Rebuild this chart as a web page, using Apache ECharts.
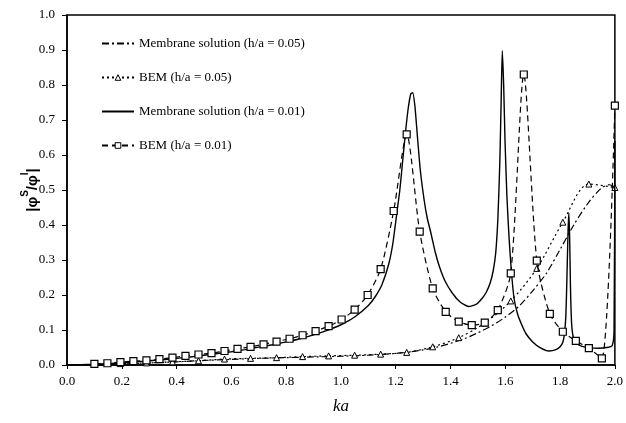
<!DOCTYPE html>
<html>
<head>
<meta charset="utf-8">
<script src="https://cdn.jsdelivr.net/npm/echarts@6/dist/echarts.min.js"></script>
<style>
  html, body { margin: 0; padding: 0; background: #fff; }
  #chart { width: 626px; height: 423px; }
</style>
</head>
<body>
<div id="chart"></div>
<script>
// Membrane solution, h/a = 0.05
const kaMem05 = [0.0, 0.1, 0.2, 0.3, 0.4, 0.5, 0.6, 0.7, 0.8, 0.9, 1.0, 1.1, 1.2, 1.25, 1.3, 1.35, 1.4, 1.45, 1.5, 1.55, 1.6, 1.65, 1.7, 1.75, 1.8, 1.85, 1.9, 1.95, 1.98, 2.0];
const valMem05 = [0.0, 0.001, 0.003, 0.006, 0.009, 0.013, 0.016, 0.019, 0.021, 0.023, 0.025, 0.028, 0.033, 0.037, 0.043, 0.051, 0.062, 0.075, 0.092, 0.112, 0.137, 0.168, 0.212, 0.262, 0.33, 0.40, 0.46, 0.505, 0.515, 0.508];

// BEM, h/a = 0.05
const kaBem05 = [0.1, 0.195, 0.29, 0.385, 0.48, 0.575, 0.67, 0.765, 0.86, 0.955, 1.05, 1.145, 1.24, 1.335, 1.43, 1.525, 1.62, 1.715, 1.81, 1.905, 2.0];
const valBem05 = [0.002, 0.004, 0.006, 0.009, 0.012, 0.017, 0.019, 0.021, 0.024, 0.026, 0.028, 0.031, 0.036, 0.052, 0.078, 0.12, 0.183, 0.276, 0.408, 0.517, 0.507];

// Membrane solution, h/a = 0.01
const kaMem01 = [0.0, 0.05, 0.1, 0.15, 0.2, 0.25, 0.3, 0.35, 0.4, 0.45, 0.5, 0.55, 0.6, 0.65, 0.7, 0.75, 0.8, 0.85, 0.9, 0.95, 1.0, 1.05, 1.1, 1.125, 1.15, 1.175, 1.19, 1.205, 1.215, 1.225, 1.235, 1.245, 1.255, 1.262, 1.27, 1.28, 1.29, 1.304, 1.315, 1.329, 1.345, 1.36, 1.38, 1.407, 1.435, 1.466, 1.495, 1.515, 1.53, 1.545, 1.556, 1.565, 1.573, 1.58, 1.585, 1.589, 1.594, 1.599, 1.606, 1.614, 1.622, 1.632, 1.645, 1.66, 1.675, 1.7, 1.73, 1.76, 1.785, 1.8, 1.81, 1.816, 1.821, 1.825, 1.829, 1.832, 1.835, 1.838, 1.842, 1.848, 1.86, 1.88, 1.91, 1.94, 1.97, 1.99, 1.997, 2.0];
const valMem01 = [0.0, 0.001, 0.002, 0.004, 0.006, 0.009, 0.012, 0.015, 0.019, 0.023, 0.028, 0.033, 0.038, 0.044, 0.051, 0.058, 0.066, 0.075, 0.086, 0.099, 0.115, 0.137, 0.17, 0.195, 0.23, 0.29, 0.35, 0.44, 0.50, 0.58, 0.66, 0.73, 0.775, 0.778, 0.74, 0.645, 0.555, 0.47, 0.42, 0.375, 0.32, 0.28, 0.24, 0.205, 0.18, 0.167, 0.174, 0.19, 0.207, 0.235, 0.27, 0.32, 0.42, 0.58, 0.76, 0.898, 0.80, 0.64, 0.48, 0.36, 0.27, 0.19, 0.145, 0.115, 0.09, 0.066, 0.048, 0.04, 0.044, 0.052, 0.065, 0.09, 0.14, 0.25, 0.38, 0.435, 0.36, 0.22, 0.12, 0.08, 0.062, 0.053, 0.049, 0.048, 0.05, 0.055, 0.1, 0.64];

// BEM, h/a = 0.01
const kaBem01 = [0.1, 0.1475, 0.195, 0.2425, 0.29, 0.3375, 0.385, 0.4325, 0.48, 0.5275, 0.575, 0.6225, 0.67, 0.7175, 0.765, 0.8125, 0.86, 0.9075, 0.955, 1.0025, 1.05, 1.0975, 1.145, 1.1925, 1.24, 1.2875, 1.335, 1.3825, 1.43, 1.4775, 1.525, 1.5725, 1.62, 1.6675, 1.715, 1.7625, 1.81, 1.8575, 1.905, 1.9525, 2.0];
const valBem01 = [0.003, 0.005, 0.008, 0.011, 0.013, 0.017, 0.021, 0.026, 0.030, 0.034, 0.040, 0.046, 0.052, 0.059, 0.067, 0.075, 0.085, 0.097, 0.111, 0.130, 0.158, 0.200, 0.274, 0.440, 0.659, 0.381, 0.219, 0.152, 0.124, 0.114, 0.121, 0.157, 0.262, 0.830, 0.298, 0.146, 0.095, 0.069, 0.048, 0.019, 0.741];

const seriesNames = [
  'Membrane solution (h/a = 0.05)',
  'BEM (h/a = 0.05)',
  'Membrane solution (h/a = 0.01)',
  'BEM (h/a = 0.01)'
];

const xTicks = ['0.0', '0.2', '0.4', '0.6', '0.8', '1.0', '1.2', '1.4', '1.6', '1.8', '2.0'];

const pairs = (xs, ys) => xs.map((x, i) => [x, ys[i]]);
const serif = '"Liberation Serif", "Times New Roman", serif';
const sans = '"Liberation Sans", Arial, sans-serif';
const hollow = { color: '#fff', borderColor: '#000', borderWidth: 1 };

const chart = echarts.init(document.getElementById('chart'), null, { renderer: 'canvas' });

chart.setOption({
  backgroundColor: '#ffffff',
  animation: false,
  grid: {
    left: 67, right: 10, top: 15, bottom: 58,
    show: true, borderColor: '#000', borderWidth: 1.5, backgroundColor: 'transparent'
  },
  legend: {
    orient: 'vertical',
    left: 96, top: 32,
    itemWidth: 32, itemHeight: 7,
    itemGap: 21,
    textStyle: { fontFamily: serif, fontSize: 13, color: '#000' },
    data: [
      { name: seriesNames[0], itemStyle: { opacity: 0 } },
      { name: seriesNames[1], itemStyle: hollow },
      { name: seriesNames[2], itemStyle: { opacity: 0 } },
      { name: seriesNames[3], itemStyle: hollow }
    ]
  },
  xAxis: {
    type: 'value',
    min: 0, max: 2, interval: 0.2,
    name: 'ka',
    nameLocation: 'middle',
    nameGap: 33,
    nameTextStyle: { fontFamily: serif, fontStyle: 'italic', fontSize: 17, color: '#000' },
    axisLine: { lineStyle: { color: '#000', width: 1.5 } },
    axisTick: { show: true, inside: false, length: 4, lineStyle: { color: '#000' } },
    splitLine: { show: false },
    axisLabel: {
      margin: 10, color: '#000', fontFamily: serif, fontSize: 13,
      formatter: (v) => xTicks[Math.round(v / 0.2)] || v.toFixed(1)
    }
  },
  yAxis: {
    type: 'value',
    min: 0, max: 1, interval: 0.1,
    name: '{t||φ}{s|S}{t|/φ}{s|I}{t||}',
    nameLocation: 'middle',
    nameRotate: 90,
    nameGap: 27,
    nameMoveOverlap: false,
    nameTextStyle: {
      rich: {
        t: { fontFamily: sans, fontWeight: 'bold', fontSize: 15, color: '#000', lineHeight: 20, verticalAlign: 'bottom' },
        s: { fontFamily: sans, fontWeight: 'bold', fontSize: 10, color: '#000', lineHeight: 20, verticalAlign: 'top' }
      }
    },
    axisLine: { show: true, lineStyle: { color: '#000', width: 1.5 } },
    axisTick: { show: true, inside: false, length: 5, lineStyle: { color: '#000' } },
    splitLine: { show: false },
    axisLabel: {
      margin: 12, color: '#000', fontFamily: serif, fontSize: 13,
      formatter: (v) => v.toFixed(1)
    }
  },
  series: [
    {
      name: seriesNames[0],
      type: 'line',
      data: pairs(kaMem05, valMem05),
      smooth: 0.3,
      showSymbol: false,
      symbol: 'none',
      lineStyle: { color: '#000', width: 1.2, type: [7, 3, 2, 3] },
      itemStyle: { color: '#000' },
      z: 2
    },
    {
      name: seriesNames[1],
      type: 'line',
      data: pairs(kaBem05, valBem05),
      smooth: 0.3,
      symbol: 'triangle',
      symbolSize: 6,
      lineStyle: { color: '#000', width: 1.2, type: [2, 3] },
      itemStyle: hollow,
      z: 3
    },
    {
      name: seriesNames[2],
      type: 'line',
      data: pairs(kaMem01, valMem01),
      smooth: 0.2,
      showSymbol: false,
      symbol: 'none',
      lineStyle: { color: '#000', width: 1.4, type: 'solid' },
      itemStyle: { color: '#000' },
      z: 4
    },
    {
      name: seriesNames[3],
      type: 'line',
      data: pairs(kaBem01, valBem01),
      smooth: 0.25,
      symbol: 'rect',
      symbolSize: 7,
      lineStyle: { color: '#000', width: 1.2, type: [6, 4] },
      itemStyle: { color: '#fff', borderColor: '#000', borderWidth: 1.2 },
      z: 5
    }
  ]
});
</script>
</body>
</html>
